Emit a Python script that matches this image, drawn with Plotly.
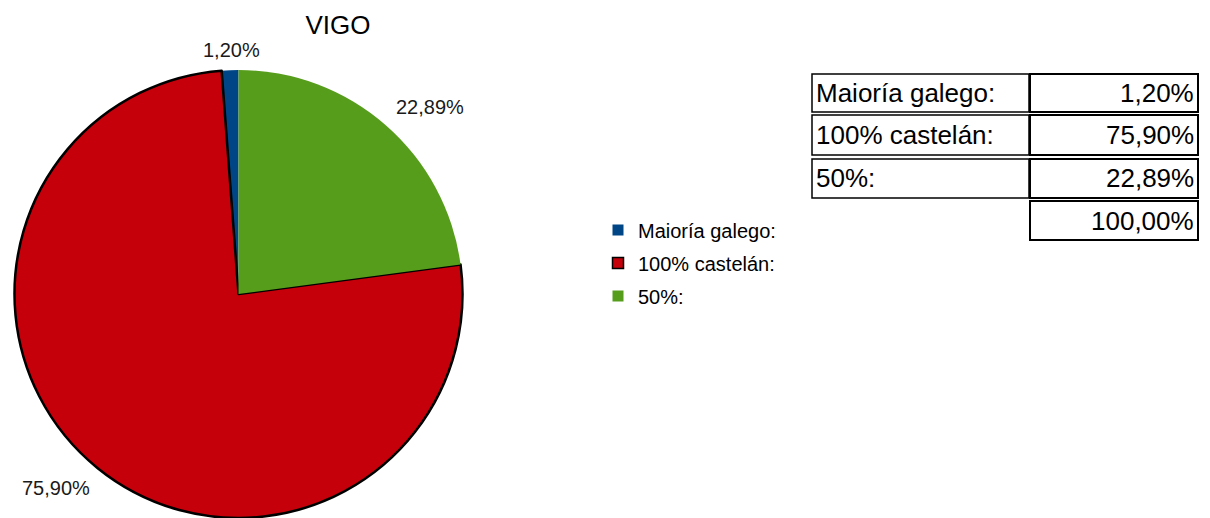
import plotly.graph_objects as go

# dados
categorias = ["Maioría galego:", "100% castelán:", "50%:"]
valores = [1.20, 75.90, 22.89]
total_txt = "100,00%"
cores = ["#004586", "#C5000B", "#579D1C"]

# a páxina ten 8px de marxe no body
OFF = 8
W, H = 1210 - OFF, 518 - OFF
FONTE = "Liberation Sans, Arial, sans-serif"


def X(px):
    return (px - OFF) / W


def Y(py):
    return 1 - (py - OFF) / H


def pct(v):
    return ("%.2f%%" % v).replace(".", ",")


bordes_cor = ["white", "black", "white"]
bordes_w = [0, 2.5, 0]

# a primeira porción queda á esquerda das 12
xiro = -valores[0] / sum(valores) * 360

fig = go.Figure()

fig.add_trace(go.Pie(
    labels=categorias,
    values=valores,
    sort=False,
    direction="counterclockwise",
    rotation=xiro,
    textinfo="none",
    hoverinfo="label+percent",
    showlegend=False,
    marker=dict(colors=cores, line=dict(color=bordes_cor, width=bordes_w)),
    domain=dict(x=[X(14.5), X(462.5)], y=[0, Y(70)]),
))

# lenda (entradas ficticias para controlar o espazado)
for cat, c, lc, lw in zip(categorias, cores, bordes_cor, bordes_w):
    fig.add_trace(go.Scatter(
        x=[None], y=[None], mode="markers", name=cat, legendgroup=cat,
        marker=dict(symbol="square", size=11, color=c,
                    line=dict(color=lc if lw else c, width=1.5 if lw else 0)),
    ))

# rótulos das porcións
pos_rotulos = [(231, 50), (56, 488), (430, 107)]
for v, (px, py) in zip(valores, pos_rotulos):
    fig.add_annotation(text=pct(v), x=X(px), y=Y(py), xref="paper", yref="paper",
                       showarrow=False, xanchor="center", yanchor="middle",
                       font=dict(size=20, color="#1a1a1a"))

# táboa
filas_y = [(74, 112), (115, 155), (159, 198), (201, 240)]
xl0, xl1, xr0, xr1 = 812, 1029, 1030, 1198


def caixa(x0, y0, x1, y1, w):
    fig.add_shape(type="rect", xref="paper", yref="paper",
                  x0=X(x0), x1=X(x1), y0=Y(y1), y1=Y(y0),
                  line=dict(color="black", width=w), fillcolor="rgba(0,0,0,0)")


for i, (y0, y1) in enumerate(filas_y):
    ym = Y((y0 + y1) / 2)
    if i < len(categorias):
        caixa(xl0, y0, xl1, y1, 1.5)
        fig.add_annotation(text=categorias[i], x=X(xl0 + 2), y=ym, xref="paper", yref="paper",
                           showarrow=False, xanchor="left", yanchor="middle",
                           font=dict(size=26, color="black"))
        txt = pct(valores[i])
    else:
        txt = total_txt
    caixa(xr0, y0, xr1, y1, 2)
    fig.add_annotation(text=txt, x=X(xr1 - 2), y=ym, xref="paper", yref="paper",
                       showarrow=False, xanchor="right", yanchor="middle",
                       font=dict(size=26, color="black"))

fig.update_layout(
    width=W, height=H,
    margin=dict(l=0, r=0, t=0, b=0),
    paper_bgcolor="white",
    plot_bgcolor="white",
    font=dict(family=FONTE, color="black"),
    xaxis=dict(visible=False),
    yaxis=dict(visible=False),
    title=dict(text="VIGO", x=X(338), y=Y(25), xanchor="center", yanchor="middle",
               font=dict(size=26, color="black")),
    showlegend=True,
    legend=dict(x=X(598), y=Y(263), xanchor="left", yanchor="middle",
                traceorder="grouped", tracegroupgap=4,
                font=dict(size=20, color="black"), bgcolor="rgba(0,0,0,0)"),
)

fig.write_html("out.html")
